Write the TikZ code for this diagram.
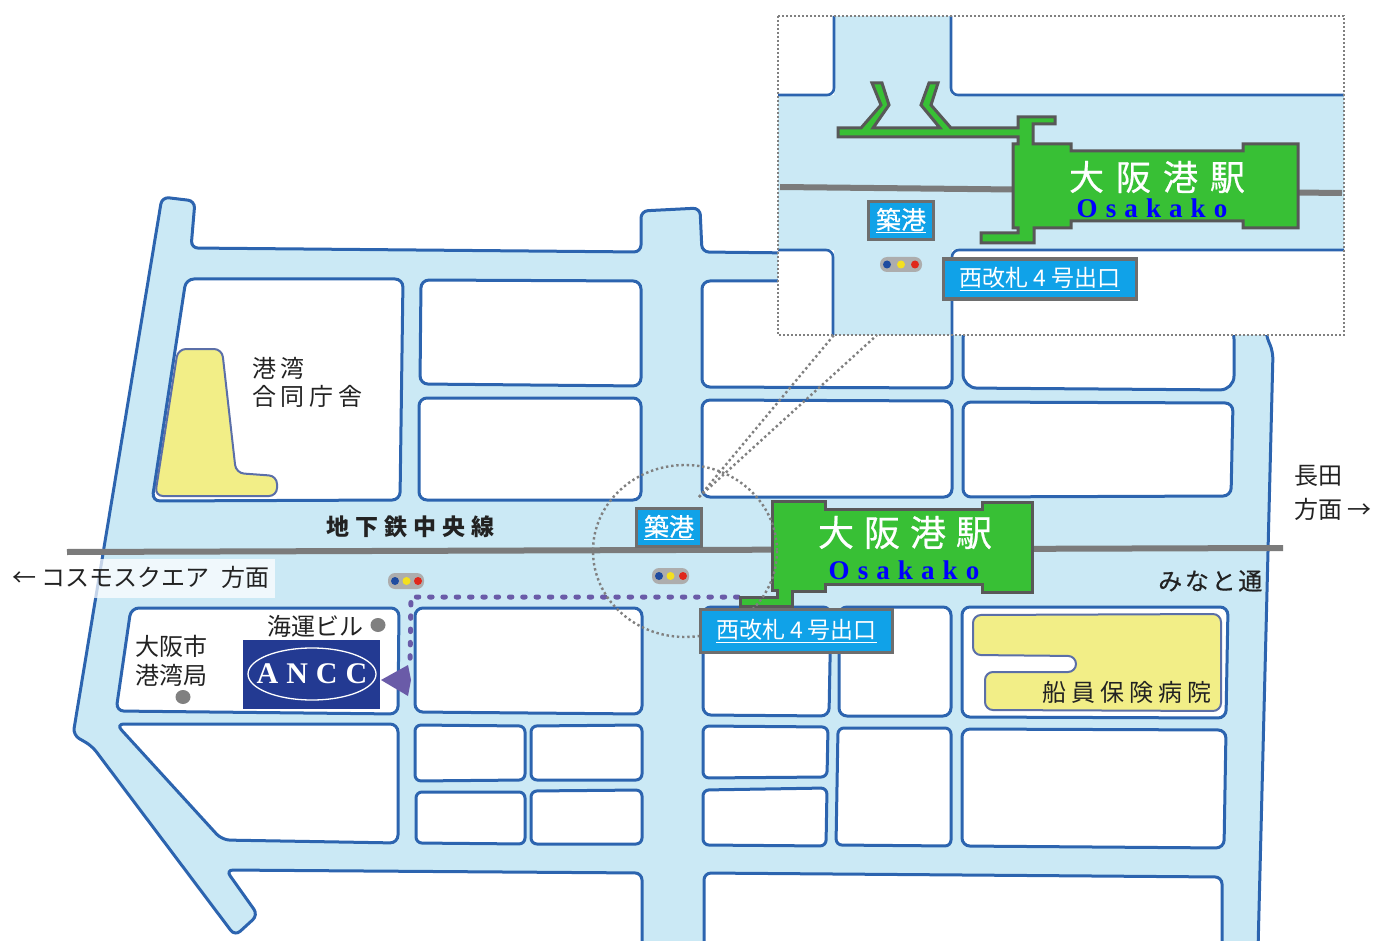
\documentclass[tikz,border=0pt]{standalone}
\usepackage{fontspec}
\setmainfont{Noto Sans CJK JP}
\newfontfamily\latinbold[Ligatures=TeX]{Liberation Serif}
\newfontfamily\semibold[FakeBold=0.5]{Noto Sans CJK JP}
\usetikzlibrary{calc}
\definecolor{roadfill}{HTML}{CBE9F5}
\definecolor{roadline}{HTML}{2C64AF}
\definecolor{railgray}{HTML}{7B7B7B}
\definecolor{stagreen}{HTML}{38C035}
\definecolor{staedge}{HTML}{585858}
\definecolor{tagblue}{HTML}{10A2E8}
\definecolor{tagedge}{HTML}{6E6E6E}
\definecolor{bldyellow}{HTML}{F2EE87}
\definecolor{bldedge}{HTML}{5B6FA8}
\definecolor{routepurple}{HTML}{6A5BA8}
\definecolor{anccblue}{HTML}{233A92}
\definecolor{inktext}{HTML}{222222}
\definecolor{sigb}{HTML}{1F4CA0}
\definecolor{sigy}{HTML}{F4E01F}
\definecolor{sigr}{HTML}{E0281C}
\newcommand{\gapp}[1]{\hspace{#1pt}}
\newcommand{\fsz}[1]{\fontsize{#1}{#1}\selectfont}
\newcommand{\osk}{{\latinbold\bfseries\fsz{27}\color{blue}O\gapp{8.1}s\gapp{8.1}a\gapp{8.1}k\gapp{8.1}a\gapp{8.1}k\gapp{8.1}o}}
\tikzset{
  block/.style={draw=roadline,fill=white,line width=3pt,rounded corners=8pt},
  road/.style={draw=roadline,fill=roadfill,line width=3pt,rounded corners=7pt},
  rail/.style={draw=railgray,line width=6pt},
  station/.style={draw=staedge,fill=stagreen,line width=3pt,line join=miter},
  tag/.style={draw=tagedge,fill=tagblue,line width=3.4pt,text=white,inner sep=0pt,anchor=center},
  lab/.style={text=inktext,inner sep=0pt,anchor=west,font=\fsz{24}},
  bld/.style={draw=bldedge,fill=bldyellow,line width=2pt,rounded corners=8pt},
  guide/.style={draw=gray,line width=2.4pt,dash pattern=on 2.4pt off 2.8pt},
  route/.style={draw=routepurple,line width=5pt,line cap=round,dash pattern=on 2.5pt off 10.8pt},
  sig/.style={fill=black!32,rounded corners=7pt},
  pin/.style={fill=black!50,draw=none},
}
\begin{document}
\begin{tikzpicture}[x=1pt,y=-1pt]
\useasboundingbox (0,0) rectangle (1373,941);
\begin{scope}
\clip (0,0) rectangle (1373,941);
% road area
\path[road] (162,197) -- (195,201) -- (191,248) -- (641,252) -- (641,211) -- (700,208) -- (702,252) -- (1262,258) -- (1266,335) -- (1273,352) -- (1258,950) -- (1222,950) -- (1222,877) -- (704,873) -- (704,950) -- (642,950) -- (642,873) -- (226,870) -- (258,915) -- (235,936) -- (92,746) -- (73,735) -- cycle;
% blocks
\path[block] (186,279) -- (403,279) -- (400,500) -- (152,501) -- cycle;
\path[block] (421,280) -- (641,281) -- (641,386) -- (420,384) -- cycle;
\path[block] (419,398) -- (641,398) -- (641,500) -- (419,500) -- cycle;
\path[block] (702,281) -- (952,281) -- (952,388) -- (702,387) -- cycle;
\path[block,rounded corners=14pt] (963,325) -- (1234,325) -- (1234,390) -- (963,388) -- cycle;
\path[block] (702,400) -- (952,401) -- (952,497) -- (702,497) -- cycle;
\path[block] (963,402) -- (1233,403) -- (1231,496) -- (963,497) -- cycle;
\path[block] (131,608) -- (399,608) -- (398,714) -- (116,711) -- cycle;
\path[block] (415,608) -- (642,608) -- (642,714) -- (415,712) -- cycle;
\path[block] (703,607) -- (831,607) -- (829,716) -- (703,715) -- cycle;
\path[block] (839,607) -- (951,607) -- (951,716) -- (839,716) -- cycle;
\path[block] (962,607) -- (1228,607) -- (1226,718) -- (962,717) -- cycle;
\path[block] (116,724) -- (398,724) -- (398,843) -- (222,840) -- cycle;
\path[block,rounded corners=6pt] (415,725) -- (525,726) -- (525,780) -- (415,781) -- cycle;
\path[block,rounded corners=6pt] (531,726) -- (642,725) -- (642,780) -- (531,780) -- cycle;
\path[block,rounded corners=6pt] (416,792) -- (525,792) -- (525,844) -- (416,843) -- cycle;
\path[block,rounded corners=6pt] (531,791) -- (642,790) -- (642,844) -- (531,844) -- cycle;
\path[block,rounded corners=6pt] (703,726) -- (828,727) -- (827,777) -- (703,778) -- cycle;
\path[block,rounded corners=6pt] (703,790) -- (827,788) -- (826,846) -- (703,845) -- cycle;
\path[block,rounded corners=6pt] (838,728) -- (951,728) -- (951,846) -- (836,845) -- cycle;
\path[block] (962,729) -- (1226,730) -- (1224,848) -- (962,846) -- cycle;
% yellow buildings
\path[bld] (178,349) -- (222,349) -- (236,473) -- (277,476) -- (277,496) -- (155,496) -- cycle;
\path[bld] (973,615) -- (1221,614) -- (1221,711) -- (985,710) -- (985,672) -- (1076,672) -- (1076,656) -- (973,655) -- cycle;
% rail
\coordinate (railW) at (67,552);
\coordinate (railE) at (1283,548);
\draw[rail] (railW) -- (railE);
% translucent label background
\fill[white,opacity=.72] (12,559) rectangle (275,598);
% route
\coordinate (routeA) at (738,597);
\coordinate (routeB) at (411,597);
\coordinate (routeC) at (410,668);
\draw[route] (routeA) -- (routeB) -- (routeC);
\fill[routepurple] (381,680) -- (408,665) -- (411,680) -- (408,696) -- cycle;
% station
\path[station] (772,501) -- (825,501) -- (825,509) -- (982,509) -- (982,502) -- (1032,502) -- (1032,592) -- (982,592) -- (982,584) -- (825,584) -- (825,591) -- (792,591) -- (792,606) -- (740,606) -- (740,597) -- (777,597) -- (777,590) -- (772,590) -- cycle;
\node[inner sep=0pt,text=white,font=\semibold\fsz{36}] (staMain) at (905,532.5) {大\gapp{10}阪\gapp{10}港\gapp{10}駅};
\node[inner sep=0pt] (oskMain) at (904,570) {\osk};
% zoom guides
\draw[guide] (685,551) ellipse [x radius=92,y radius=86];
\coordinate (guideS) at (699,497);
\coordinate (guideA) at (834,335);
\coordinate (guideB) at (877,335);
\draw[guide] (guideS) -- (guideA);
\draw[guide] (guideS) -- (guideB);
% signals
\fill[sig] (388,573) rectangle (424,589);
\fill[sigb] (395,581) circle (4);
\fill[sigy] (406.5,581) circle (4);
\fill[sigr] (418,581) circle (4);
\fill[sig] (652,568) rectangle (689,584);
\fill[sigb] (659,576) circle (4);
\fill[sigy] (670.5,576) circle (4);
\fill[sigr] (683,576) circle (4);
% ANCC
\fill[anccblue] (243,640) rectangle (380,709);
\draw[white,line width=1.3pt] (312,674) ellipse [x radius=64,y radius=26];
\node[inner sep=0pt,text=white] (ancc) at (312,674) {\latinbold\bfseries\fsz{30}A\gapp{8}N\gapp{8}C\gapp{8}C};
\fill[pin] (378,625) ellipse [x radius=7.5,y radius=7];
\fill[pin] (183,697) ellipse [x radius=7.5,y radius=7];
% inset
\fill[white] (778,16) rectangle (1344,335);
\fill[roadfill] (778,95) rectangle (1344,250);
\fill[roadfill] (834,16) rectangle (952,335);
\draw[roadline,line width=2.6pt,rounded corners=7pt] (834,16) -- (834,95) -- (778,95);
\draw[roadline,line width=2.6pt,rounded corners=7pt] (951,16) -- (951,95) -- (1344,95);
\draw[roadline,line width=2.6pt,rounded corners=7pt] (778,250) -- (833,250) -- (833,335);
\draw[roadline,line width=2.6pt,rounded corners=7pt] (952,335) -- (952,250) -- (1344,250);
\coordinate (railInW) at (780,187);
\coordinate (railInE) at (1342,193);
\draw[rail] (railInW) -- (railInE);
\path[station] (838,128) -- (861,128) -- (881,105) -- (872,83) -- (882,83) -- (889,105) -- (873,128) -- (940,128) -- (921,105) -- (929,83) -- (938,83) -- (931,105) -- (951,128) -- (1018,128) -- (1018,117) -- (1055,117) -- (1055,124) -- (1033,124) -- (1033,144) -- (1071,144) -- (1071,151) -- (1243,151) -- (1243,144) -- (1298,144) -- (1298,228) -- (1243,228) -- (1243,221) -- (1071,221) -- (1071,228) -- (1034,228) -- (1034,243) -- (981,243) -- (981,233) -- (1018,233) -- (1018,228) -- (1013,228) -- (1013,144) -- (1018,144) -- (1018,137) -- (838,137) -- cycle;
\node[inner sep=0pt,text=white,font=\semibold\fsz{35}] (staInset) at (1157,177) {大\gapp{12}阪\gapp{12}港\gapp{12}駅};
\node[inner sep=0pt] (oskInset) at (1152,208) {\osk};
\fill[sig] (880,257) rectangle (922,272);
\fill[sigb] (887,264.5) circle (4);
\fill[sigy] (901,264.5) circle (4);
\fill[sigr] (915,264.5) circle (4);
\draw[draw=gray,line width=1.4pt,dash pattern=on 2pt off 2pt] (778,16) rectangle (1344,335);
\end{scope}
% tags
\node[tag,minimum width=65pt,minimum height=38pt] (tsuA) at (669,527.5) {\semibold\fsz{25}\underline{築港}};
\node[tag,minimum width=65pt,minimum height=38pt] (tsuB) at (901,220.5) {\semibold\fsz{25}\underline{築港}};
\node[tag,minimum width=192pt,minimum height=43pt] (exitA) at (796.5,631) {\fsz{23}\underline{西改札\gapp{5}4\gapp{5}号出口}};
\node[tag,minimum width=193pt,minimum height=40pt] (exitB) at (1040,279) {\fsz{23}\underline{西改札\gapp{5}4\gapp{5}号出口}\gapp{3}};
% labels
\node[lab,anchor=center] (chuo) at (410.5,527) {\bfseries\fsz{23}地\gapp{6.2}下\gapp{6.2}鉄\gapp{6.2}中\gapp{6.2}央\gapp{6.2}線};
\node[lab] (cosmo) at (12,577) {← コスモスクエア\gapp{12}方面};
\node[lab] (kaiun) at (267,626) {海運ビル};
\node[lab] (osk1) at (135,646) {大阪市};
\node[lab] (osk2) at (135,675) {港湾局};
\node[lab] (kowan) at (252,368) {港\gapp{4}湾};
\node[lab] (godo) at (252,396) {合\gapp{4.7}同\gapp{4.7}庁\gapp{4.7}舎};
\node[lab] (minato) at (1158,581) {\semibold み\gapp{2.7}な\gapp{2.7}と\gapp{2.7}通};
\node[lab] (senin) at (1042,692) {船\gapp{5}員\gapp{5}保\gapp{5}険\gapp{5}病\gapp{5}院};
\node[lab] (naga) at (1294,476) {長田};
\node[lab] (hou) at (1294,509) {方面 →};
\end{tikzpicture}
\end{document}
